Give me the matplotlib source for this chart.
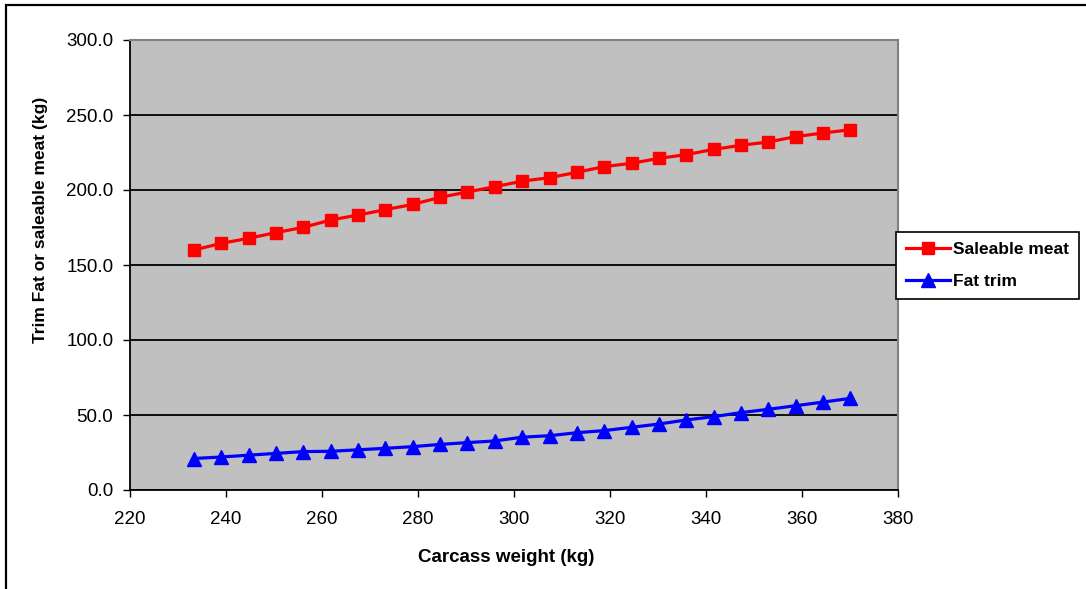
import matplotlib
matplotlib.use('Agg')
import matplotlib.pyplot as plt
from matplotlib.patches import Rectangle

plt.rcParams['font.family'] = ['Liberation Sans', 'DejaVu Sans']

# Carcass weight (kg) and the two series
carcassWeight = [233.3, 239.0, 244.7, 250.4, 256.1, 261.8, 267.5, 273.2, 278.9,
                 284.6, 290.3, 296.0, 301.7, 307.4, 313.1, 318.8, 324.5, 330.2,
                 335.9, 341.6, 347.3, 353.0, 358.7, 364.4, 370.1]
saleableMeat = [160.0, 164.4, 167.8, 171.6, 175.1, 180.0, 183.3, 186.9, 190.4,
                195.1, 198.7, 202.2, 205.9, 208.2, 211.8, 215.6, 217.8, 221.1,
                223.6, 227.1, 229.8, 232.0, 235.6, 238.0, 240.2]
fatTrim = [21.0, 22.0, 23.2, 24.4, 25.6, 25.8, 26.8, 27.8, 28.9,
           30.4, 31.6, 32.7, 35.2, 36.2, 38.2, 39.6, 41.8, 44.0,
           46.7, 48.9, 51.6, 53.8, 56.2, 58.6, 61.1]
xTicks = [220, 240, 260, 280, 300, 320, 340, 360, 380]
yTicks = [0, 50, 100, 150, 200, 250, 300]

fig = plt.figure(figsize=(10.86, 5.89), dpi=100)
# outer chart border (only top and left visible in the original)
fig.patches.append(Rectangle((6 / 1086, -0.2), 1.2, 1.2 - 5 / 589,
                             transform=fig.transFigure, fill=False,
                             edgecolor='black', linewidth=1.6))

ax = fig.add_axes([130 / 1086, 99 / 589, 768 / 1086, 450 / 589])
ax.set_facecolor('#c0c0c0')

ax.plot(carcassWeight, saleableMeat, color='#ff0000', linewidth=2.3,
        marker='s', markersize=9.3, label='Saleable meat', zorder=3)
ax.plot(carcassWeight, fatTrim, color='#0000ff', linewidth=2.3,
        marker='^', markersize=10.5, label='Fat trim', zorder=3)

ax.set_xlim(220, 380)
ax.set_ylim(0, 300)
ax.set_xticks(xTicks)
ax.set_yticks(yTicks)
ax.set_yticklabels(['%.1f' % v for v in yTicks])
ax.tick_params(labelsize=13.5, direction='out', length=5, width=1, colors='black')
ax.tick_params(axis='x', pad=10)
ax.tick_params(axis='y', pad=7)

ax.yaxis.grid(True, color='black', linewidth=1.3)
ax.set_axisbelow(True)
for side in ['left', 'bottom']:
    ax.spines[side].set_linewidth(1.3)
    ax.spines[side].set_color('black')
for side in ['top', 'right']:
    ax.spines[side].set_linewidth(1.5)
    ax.spines[side].set_color('#808080')

ax.set_xlabel('Carcass weight (kg)', fontsize=13.5, fontweight='bold', va='center')
ax.set_ylabel('Trim Fat or saleable meat (kg)', fontsize=12.5, fontweight='bold', va='center')
ax.xaxis.set_label_coords(0.49, -0.149)
ax.yaxis.set_label_coords(-0.117, 0.6)

leg = ax.legend(loc='upper left', bbox_to_anchor=(896 / 1086, 1 - 232 / 589),
                bbox_transform=fig.transFigure, frameon=True,
                fancybox=False, edgecolor='black', handlelength=2.55,
                borderpad=0.55, labelspacing=1.0, handletextpad=0.2,
                borderaxespad=0, prop={'weight': 'bold', 'size': 12.5})
leg.get_frame().set_linewidth(1.2)
leg.get_frame().set_facecolor('white')
leg.get_frame().set_alpha(1)

fig.savefig('out.png', dpi=100)
